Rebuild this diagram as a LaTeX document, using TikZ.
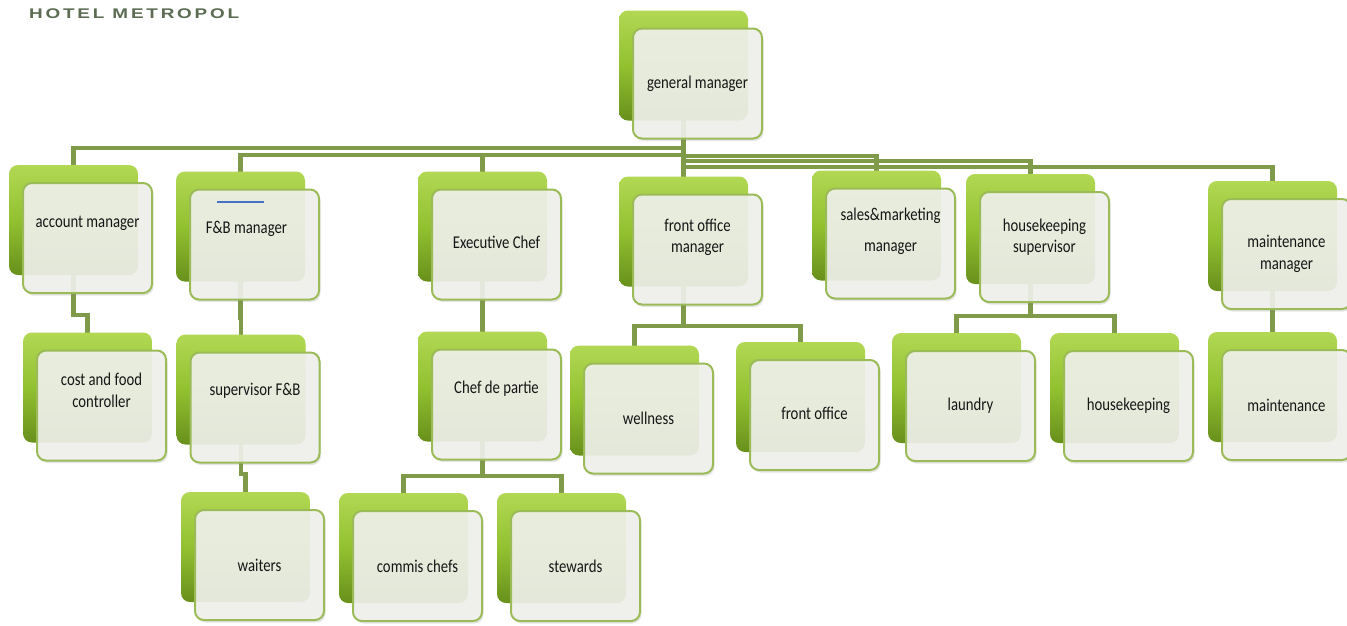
\documentclass[tikz,border=0pt]{standalone}
\usepackage{fontspec}
\usetikzlibrary{shadows,backgrounds}

\newfontfamily\cardfont[FakeStretch=0.82]{Carlito}
\newfontfamily\titlefont[FakeStretch=1.35,LetterSpace=20]{Liberation Sans}

\definecolor{linkgreen}{RGB}{127,154,72}
\definecolor{cardline}{RGB}{155,187,89}
\definecolor{cardfill}{RGB}{241,242,237}
\definecolor{backtop}{RGB}{178,216,84}
\definecolor{backmid}{RGB}{146,193,48}
\definecolor{backbot}{RGB}{104,144,28}
\definecolor{titlegreen}{RGB}{92,108,82}
\definecolor{textgray}{RGB}{22,22,22}
\definecolor{strayblue}{RGB}{68,114,196}

\begin{document}
\begin{tikzpicture}
  [x=1pt,y=-1pt,
   card/.style={draw=cardline,line width=2pt,rounded corners=9pt,fill=cardfill,fill opacity=.9,
     minimum width=129pt,minimum height=110pt,inner sep=0pt,
     general shadow={shadow xshift=-14pt,shadow yshift=18pt,fill opacity=1,draw=none,
       top color=backtop,bottom color=backbot,middle color=backmid},
     drop shadow={shadow xshift=1.5pt,shadow yshift=-2.5pt,opacity=.2}},
   lbl/.style={font=\cardfont\fontsize{18}{21.5}\selectfont,text=textgray,align=center,inner sep=0pt},
   link/.style={draw=linkgreen,line width=4.5pt},
   rear/.style={shift={(-14pt,18pt)}}]
  \path[use as bounding box] (0,0) rectangle (1347,625);

  \node[font=\titlefont\bfseries\fontsize{14}{16}\selectfont,text=titlegreen,anchor=west,inner sep=0pt]
    (title) at (29,14) {HOTEL METROPOL};

  % first row
  \node[card] (gm) at (697.5,83.5) {};
  \node[card] (acc) at (87.5,238) {};
  \node[card] (fb) at (254.5,244.5) {};
  \node[card] (chef) at (496.5,244.5) {};
  \node[card] (fom) at (697.5,249.5) {};
  \node[card] (sales) at (890.5,243.5) {};
  \node[card] (hks) at (1044.5,247) {};
  \node[card] (mm) at (1286.5,254) {};

  % second row
  \node[card] (cost) at (101.5,405.5) {};
  \node[card] (supfb) at (255,407.5) {};
  \node[card] (cdp) at (496.5,404.5) {};
  \node[card] (well) at (648.5,418.5) {};
  \node[card] (fo) at (814.5,415) {};
  \node[card] (laundry) at (970.5,406) {};
  \node[card] (hk) at (1128.5,406) {};
  \node[card] (maint) at (1286.5,405) {};

  % third row
  \node[card] (waiters) at (259.5,565) {};
  \node[card] (commis) at (417.5,566) {};
  \node[card] (stewards) at (575.5,566) {};

  \node[lbl] (gm-t) at (gm) {general manager};
  \node[lbl] (acc-t) at ([yshift=15pt]acc.center) {account manager};
  \node[lbl] (fb-t) at ([shift={(-8pt,15.5pt)}]fb.center) {F\&B manager};
  \node[lbl] (chef-t) at ([yshift=2pt]chef.center) {Executive Chef};
  \node[lbl] (fom-t) at ([yshift=12pt]fom.center) {front office\\manager};
  \node[lbl] (sales-t) at ([yshift=12pt]sales.center) {sales\&marketing\\[9pt]manager};
  \node[lbl] (hks-t) at ([yshift=10pt]hks.center) {housekeeping\\supervisor};
  \node[lbl] (mm-t) at (mm) {maintenance\\manager};
  \node[lbl] (cost-t) at ([yshift=15pt]cost.center) {cost and food\\controller};
  \node[lbl] (supfb-t) at ([yshift=17pt]supfb.center) {supervisor F\&B};
  \node[lbl] (cdp-t) at ([yshift=16pt]cdp.center) {Chef de partie};
  \node[lbl] (well-t) at (well) {wellness};
  \node[lbl] (fo-t) at ([yshift=2pt]fo.center) {front office};
  \node[lbl] (laundry-t) at (laundry) {laundry};
  \node[lbl] (hk-t) at (hk) {housekeeping};
  \node[lbl] (maint-t) at (maint) {maintenance};
  \node[lbl] (waiters-t) at (waiters) {waiters};
  \node[lbl] (commis-t) at (commis) {commis chefs};
  \node[lbl] (stewards-t) at (stewards) {stewards};

  \draw[strayblue,line width=1.5pt] (217,202) -- (264,202);

  \begin{pgfonlayer}{background}
    \fill[white] (0,0) rectangle (1347,625);
    \draw[link] ([rear]gm.center) -- ++(0,82.5) -| ([rear]acc.center);
    \draw[link] ([rear]gm.center) -- ++(0,89.5) -| ([rear]fb.center);
    \draw[link] ([rear]gm.center) -- ++(0,89.5) -| ([rear]chef.center);
    \draw[link] ([rear]gm.center) -- ([rear]fom.center);
    \draw[link] ([rear]gm.center) -- ++(0,90.5) -| ([rear]sales.center);
    \draw[link] ([rear]gm.center) -- ++(0,95.5) -| ([rear]hks.center);
    \draw[link] ([rear]gm.center) -- ++(0,101.5) -| ([rear]mm.center);

    \draw[link] ([rear]acc.center) -- ++(0,95) -| ([rear]cost.center);
    \draw[link] ([rear]fb.center) -- ++(0,91.5) -| ([rear]supfb.center);
    \draw[link] ([rear]supfb.center) -- ++(0,84.5) -| ([rear]waiters.center);
    \draw[link] ([rear]chef.center) -- ([rear]cdp.center);
    \draw[link] ([rear]cdp.center) -- ++(0,89.5) -| ([rear]commis.center);
    \draw[link] ([rear]cdp.center) -- ++(0,89.5) -| ([rear]stewards.center);
    \draw[link] ([rear]fom.center) -- ++(0,94.5) -| ([rear]well.center);
    \draw[link] ([rear]fom.center) -- ++(0,94.5) -| ([rear]fo.center);
    \draw[link] ([rear]hks.center) -- ++(0,87) -| ([rear]laundry.center);
    \draw[link] ([rear]hks.center) -- ++(0,87) -| ([rear]hk.center);
    \draw[link] ([rear]mm.center) -- ([rear]maint.center);
  \end{pgfonlayer}
\end{tikzpicture}
\end{document}
